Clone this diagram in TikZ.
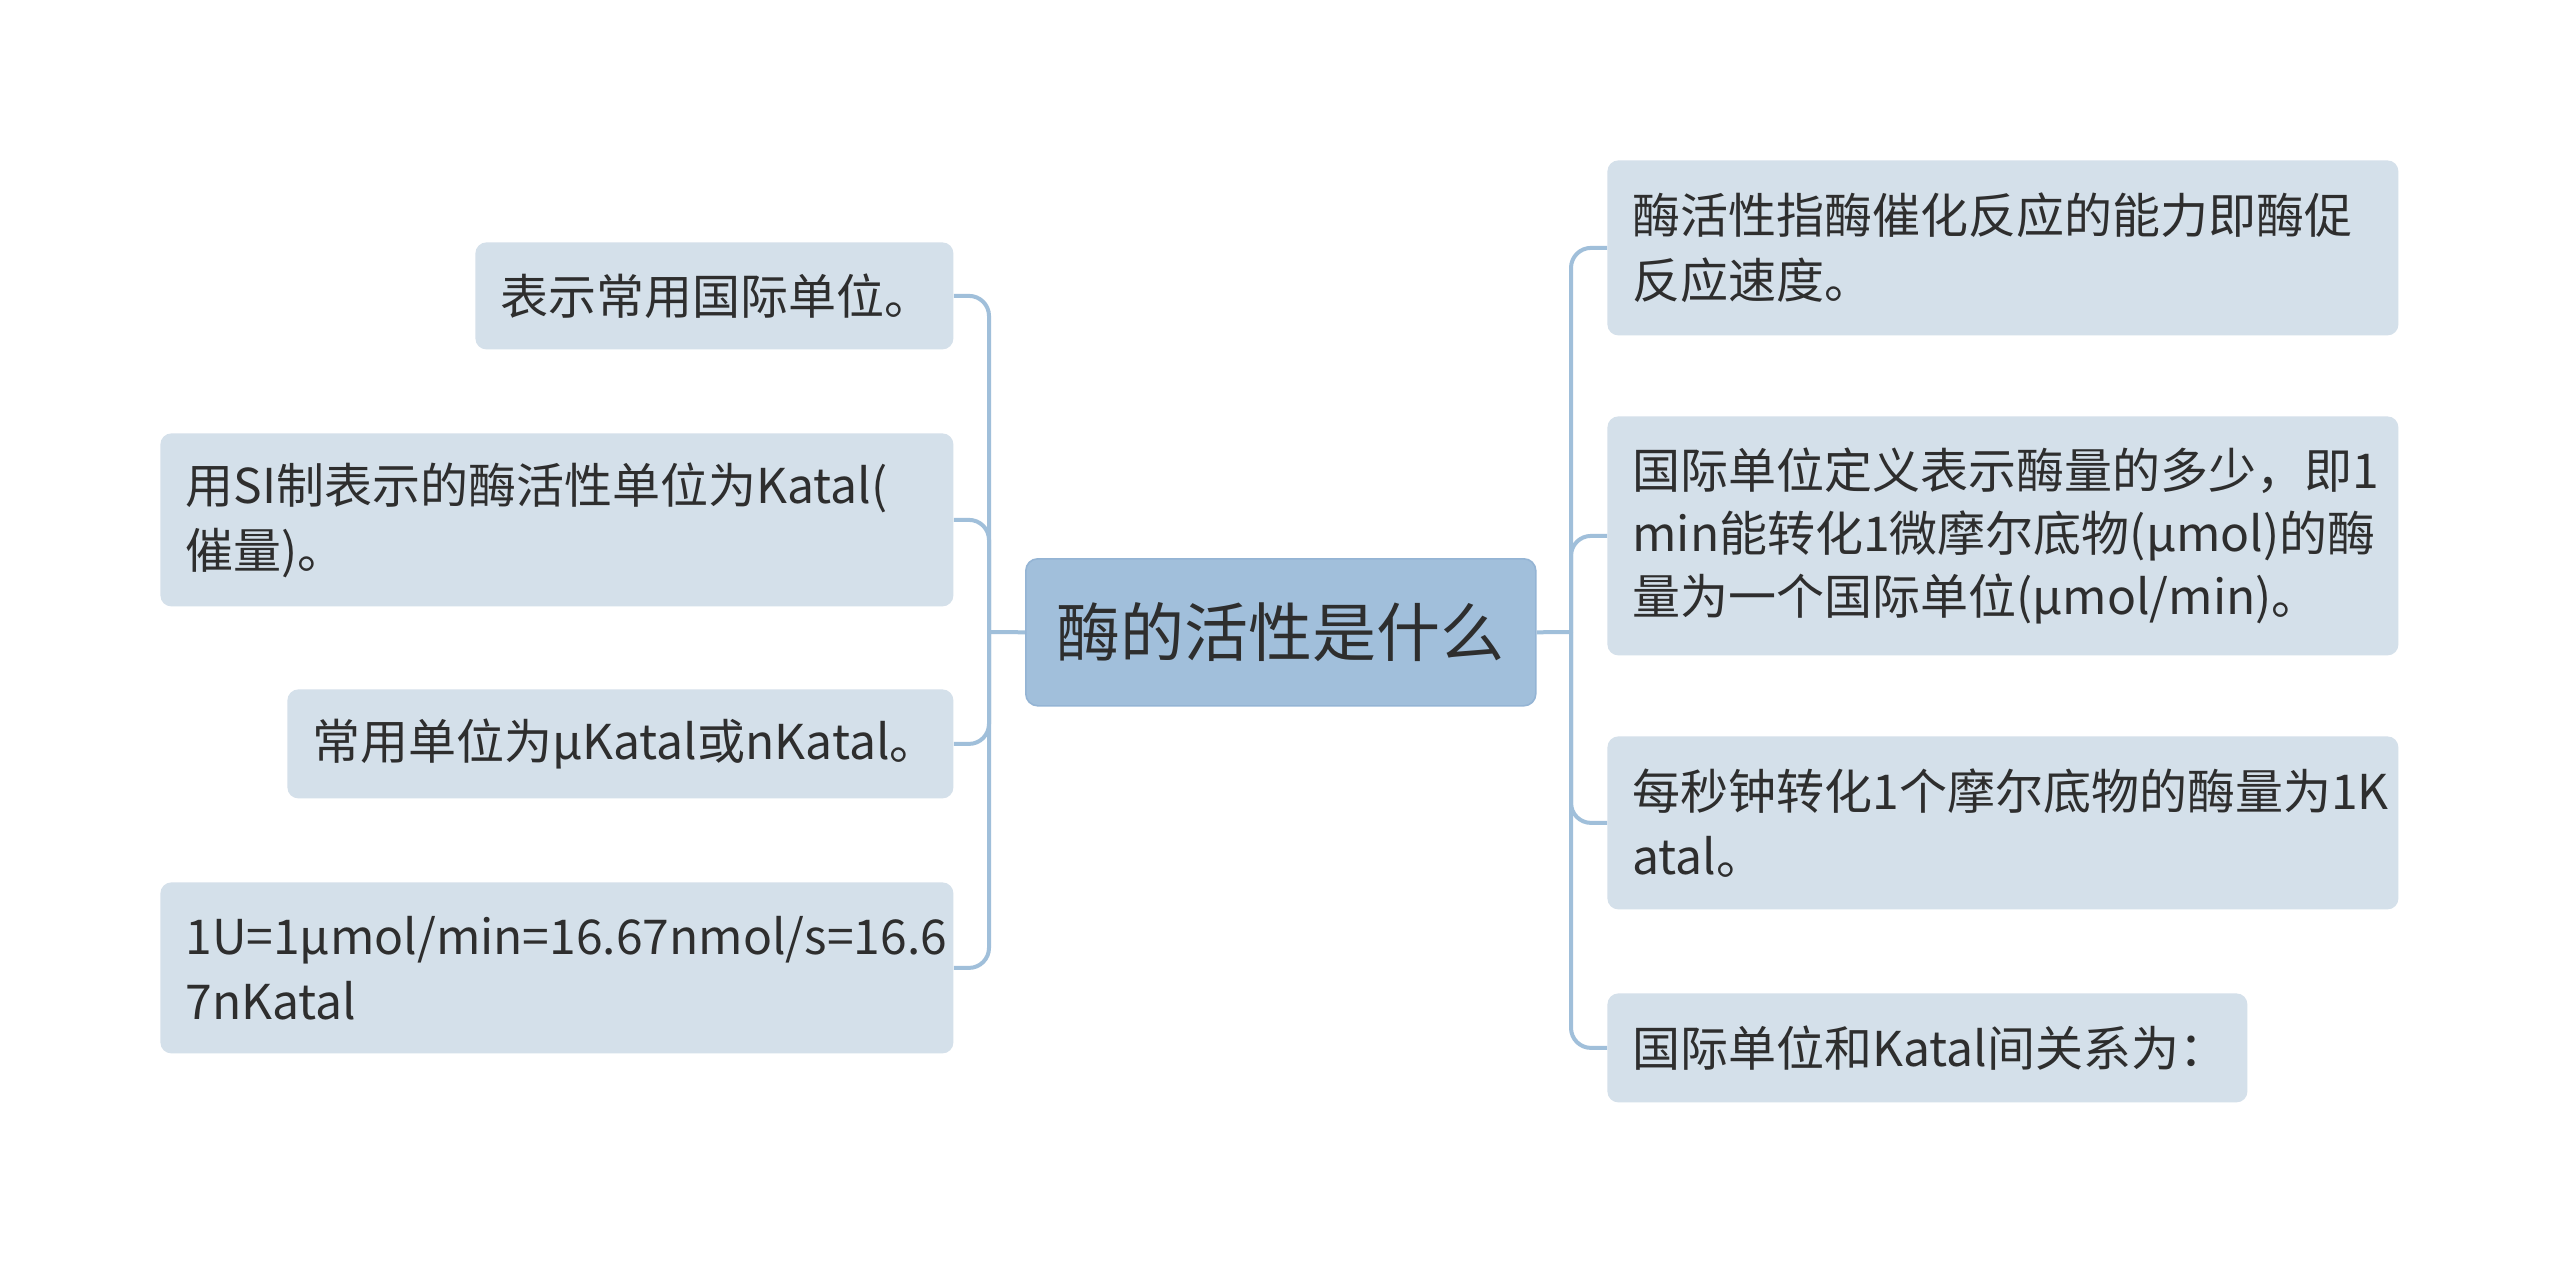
\documentclass[tikz,border=0pt]{standalone}
\usepackage{fontspec}
\setmainfont{Noto Sans CJK SC}
\definecolor{boxfill}{RGB}{212,224,234}
\definecolor{rootfill}{RGB}{161,191,219}
\definecolor{rootdraw}{RGB}{148,180,212}
\definecolor{linec}{RGB}{160,191,218}
\definecolor{textc}{RGB}{46,46,46}
\begin{document}
\begin{tikzpicture}[x=0.5pt,y=-0.5pt]
\tikzset{
  leaf/.style={fill=boxfill, rounded corners=5.5pt, anchor=north west, inner xsep=12.5pt, inner ysep=0pt,
    align=left, text=textc, font=\fontsize{24pt}{32.5pt}\selectfont},
  rootbox/.style={fill=rootfill, draw=rootdraw, line width=0.8pt, rounded corners=6pt, anchor=north west,
    minimum width=255pt, minimum height=73.5pt, inner sep=0pt, text=textc, font=\fontsize{32pt}{36pt}\selectfont},
  conn/.style={draw=linec, line width=2pt, rounded corners=10pt},
}
\useasboundingbox (0,0) rectangle (2560,1264);
\fill[white] (0,0) rectangle (2560,1264);

% root
\node[rootbox] (c) at (1025,558) {酶的活性是什么};

% left leaves
\node[leaf, minimum height=53.5pt, text width=214pt] (l1) at (475,242) {表示常用国际单位。};
\node[leaf, minimum height=86.5pt, text width=371.5pt] (l2) at (160,433) {用SI制表示的酶活性单位为Katal(\\催量)。};
\node[leaf, minimum height=54.5pt, text width=308pt] (l3) at (287,689) {常用单位为μKatal或nKatal。};
\node[leaf, minimum height=85.5pt, text width=371.5pt] (l4) at (160,882) {1U=1μmol/min=16.67nmol/s=16.6\\7nKatal};

% right leaves
\node[leaf, minimum height=87.5pt, text width=370.5pt] (r1) at (1607,160) {酶活性指酶催化反应的能力即酶促\\反应速度。};
\node[leaf, minimum height=119.5pt, text width=370.5pt, font=\fontsize{24pt}{31.5pt}\selectfont] (r2) at (1607,416) {国际单位定义表示酶量的多少，即1\\min能转化1微摩尔底物(μmol)的酶\\量为一个国际单位(μmol/min)。};
\node[leaf, minimum height=86.5pt, text width=370.5pt] (r3) at (1607,736) {每秒钟转化1个摩尔底物的酶量为1K\\atal。};
\node[leaf, minimum height=54.5pt, text width=295pt] (r4) at (1607,993) {国际单位和Katal间关系为：};

% connectors left
\coordinate (lj) at (989,632);
\draw[conn] (c.west) -- (lj);
\draw[conn] (lj) -- (lj |- l1.east) -- (l1.east);
\draw[conn] (lj) -- (lj |- l2.east) -- (l2.east);
\draw[conn] (lj) -- (lj |- l3.east) -- (l3.east);
\draw[conn] (lj) -- (lj |- l4.east) -- (l4.east);

% connectors right
\coordinate (rj) at (1571,632);
\draw[conn] (c.east) -- (rj);
\draw[conn] (rj) -- (rj |- r1.west) -- (r1.west);
\draw[conn] (rj) -- (rj |- r2.west) -- (r2.west);
\draw[conn] (rj) -- (rj |- r3.west) -- (r3.west);
\draw[conn] (rj) -- (rj |- r4.west) -- (r4.west);
\end{tikzpicture}
\end{document}
